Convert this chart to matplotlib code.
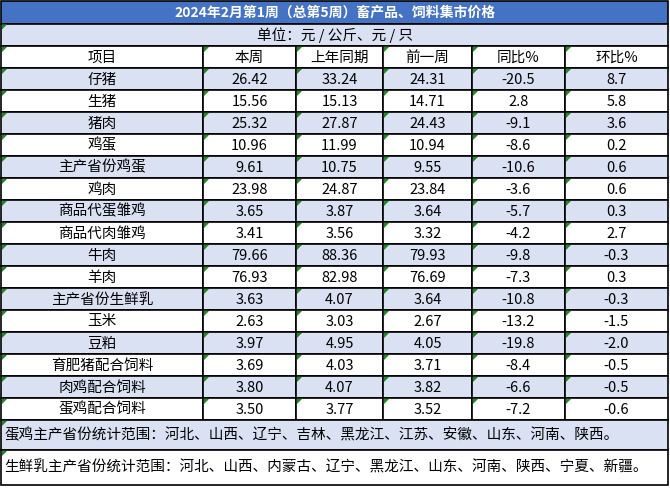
import matplotlib
matplotlib.use("Agg")
import matplotlib.pyplot as plt
from matplotlib.patches import Rectangle, Polygon

plt.rcParams['font.family'] = ['Noto Sans CJK SC', 'DejaVu Sans']

title = "2024年2月第1周（总第5周）畜产品、饲料集市价格"
unit = "单位：元 / 公斤、元 / 只"
headers = ["项目", "本周", "上年同期", "前一周", "同比%", "环比%"]
items = ["仔猪", "生猪", "猪肉", "鸡蛋", "主产省份鸡蛋", "鸡肉", "商品代蛋雏鸡", "商品代肉雏鸡",
         "牛肉", "羊肉", "主产省份生鲜乳", "玉米", "豆粕", "育肥猪配合饲料", "肉鸡配合饲料", "蛋鸡配合饲料"]
this_week = ["26.42", "15.56", "25.32", "10.96", "9.61", "23.98", "3.65", "3.41",
             "79.66", "76.93", "3.63", "2.63", "3.97", "3.69", "3.80", "3.50"]
last_year = ["33.24", "15.13", "27.87", "11.99", "10.75", "24.87", "3.87", "3.56",
             "88.36", "82.98", "4.07", "3.03", "4.95", "4.03", "4.07", "3.77"]
prev_week = ["24.31", "14.71", "24.43", "10.94", "9.55", "23.84", "3.64", "3.32",
             "79.93", "76.69", "3.64", "2.67", "4.05", "3.71", "3.82", "3.52"]
yoy = ["-20.5", "2.8", "-9.1", "-8.6", "-10.6", "-3.6", "-5.7", "-4.2",
       "-9.8", "-7.3", "-10.8", "-13.2", "-19.8", "-8.4", "-6.6", "-7.2"]
mom = ["8.7", "5.8", "3.6", "0.2", "0.6", "0.6", "0.3", "2.7",
       "-0.3", "0.3", "-0.3", "-1.5", "-2.0", "-0.5", "-0.5", "-0.6"]
notes = ["蛋鸡主产省份统计范围：河北、山西、辽宁、吉林、黑龙江、江苏、安徽、山东、河南、陕西。",
         "生鲜乳主产省份统计范围：河北、山西、内蒙古、辽宁、黑龙江、山东、河南、陕西、宁夏、新疆。"]

W, H = 670, 488
fig = plt.figure(figsize=(W/100, H/100), dpi=100)
ax = fig.add_axes([0, 0, 1, 1])
ax.set_xlim(0, W); ax.set_ylim(H, 0); ax.axis('off')

BLUE = "#4472C4"; LIGHT = "#D9E1F2"
cols = [1, 203, 296, 383, 472, 565, 668]
th = 22.5
rh = 22.0
y0 = 1

def rect(x1, y1, x2, y2, fc):
    ax.add_patch(Rectangle((x1, y1), x2-x1, y2-y1, facecolor=fc, edgecolor='black', lw=1.2))

def tri(x, y):
    ax.add_patch(Polygon([(x+1, y+1), (x+6, y+1), (x+1, y+6)], closed=True, color="#1E8C1E", lw=0))

rect(cols[0], y0, cols[-1], y0+th, BLUE)
ax.text(W/2, y0+th/2, title, color='white', fontsize=10, fontweight='bold', ha='center', va='center')
y = y0+th
rect(cols[0], y, cols[-1], y+th, LIGHT); tri(cols[0], y)
ax.text(W/2, y+th/2, unit, fontsize=10.5, ha='center', va='center')
y += th
rows = [headers] + [list(r) for r in zip(items, this_week, last_year, prev_week, yoy, mom)]
for i, r in enumerate(rows):
    fc = 'white' if i % 2 == 0 else LIGHT
    for j in range(6):
        rect(cols[j], y, cols[j+1], y+rh, fc); tri(cols[j], y)
        ax.text((cols[j]+cols[j+1])/2, y+rh/2+0.5, r[j], fontsize=10.5, ha='center', va='center')
    y += rh
nh = [30, 35]
for k, n in enumerate(notes):
    fc = LIGHT if k == 0 else 'white'
    rect(cols[0], y, cols[-1], y+nh[k], fc); tri(cols[0], y)
    ax.text(4, y+nh[k]/2, n, fontsize=10.5, ha='left', va='center')
    y += nh[k]

fig.savefig("out.png", dpi=100)
